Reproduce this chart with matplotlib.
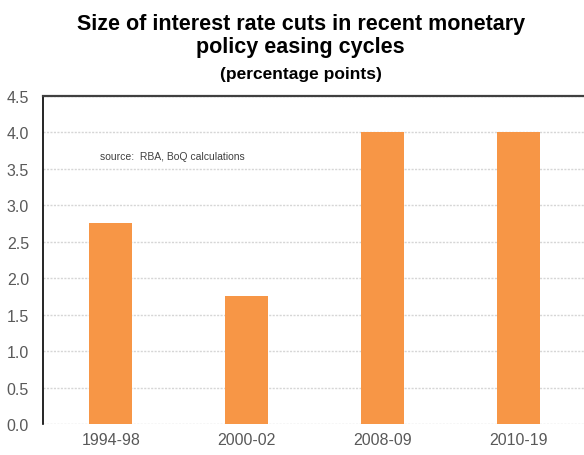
import matplotlib
matplotlib.use("Agg")
import matplotlib.pyplot as plt
from matplotlib import font_manager

periods = ["1994-98", "2000-02", "2008-09", "2010-19"]
rate_cuts = [2.75, 1.75, 4.0, 4.0]
y_ticks = [0.0, 0.5, 1.0, 1.5, 2.0, 2.5, 3.0, 3.5, 4.0, 4.5]

names = {f.name for f in font_manager.fontManager.ttflist}
narrow = "Liberation Sans Narrow" if "Liberation Sans Narrow" in names else "Liberation Sans"
plt.rcParams["font.family"] = [narrow, "DejaVu Sans"]

fig = plt.figure(figsize=(5.84, 4.56), dpi=100)
ax = fig.add_axes([0.0733, 0.068, 0.9315, 0.720])

x = list(range(len(periods)))
ax.bar(x, rate_cuts, width=0.316, color="#F79646", zorder=3)

ax.set_xlim(-0.5, len(periods) - 0.5)
ax.set_ylim(0, 4.5)
ax.set_yticks(y_ticks)
ax.set_yticklabels([f"{v:.1f}" for v in y_ticks])
ax.set_xticks(x)
ax.set_xticklabels(periods)
ax.tick_params(axis="both", length=0, labelsize=11.5, colors="#595959")
ax.tick_params(axis="y", pad=10)
ax.tick_params(axis="x", pad=6)

ax.yaxis.grid(True, color="#d6d6d6", linestyle=(0, (1.5, 1)), linewidth=1.0, zorder=0)
ax.set_axisbelow(True)

for side in ["right", "bottom"]:
    ax.spines[side].set_visible(False)
ax.spines["left"].set_color("#000000")
ax.spines["left"].set_linewidth(1.2)
ax.spines["top"].set_color("#404040")
ax.spines["top"].set_linewidth(1.6)

ax.text(0.105, 3.67, "source:  RBA, BoQ calculations", transform=ax.get_yaxis_transform(),
        fontsize=7.5, color="#404040", va="center", ha="left")

fig.text(0.515, 0.921, "Size of interest rate cuts in recent monetary\npolicy easing cycles",
         ha="center", va="center", fontsize=15.5, fontweight="bold", color="#000000",
         linespacing=1.12)
fig.text(0.515, 0.836, "(percentage points)", ha="center", va="center",
         fontsize=12.5, fontweight="bold", color="#000000")

fig.savefig("out.png", dpi=100)
